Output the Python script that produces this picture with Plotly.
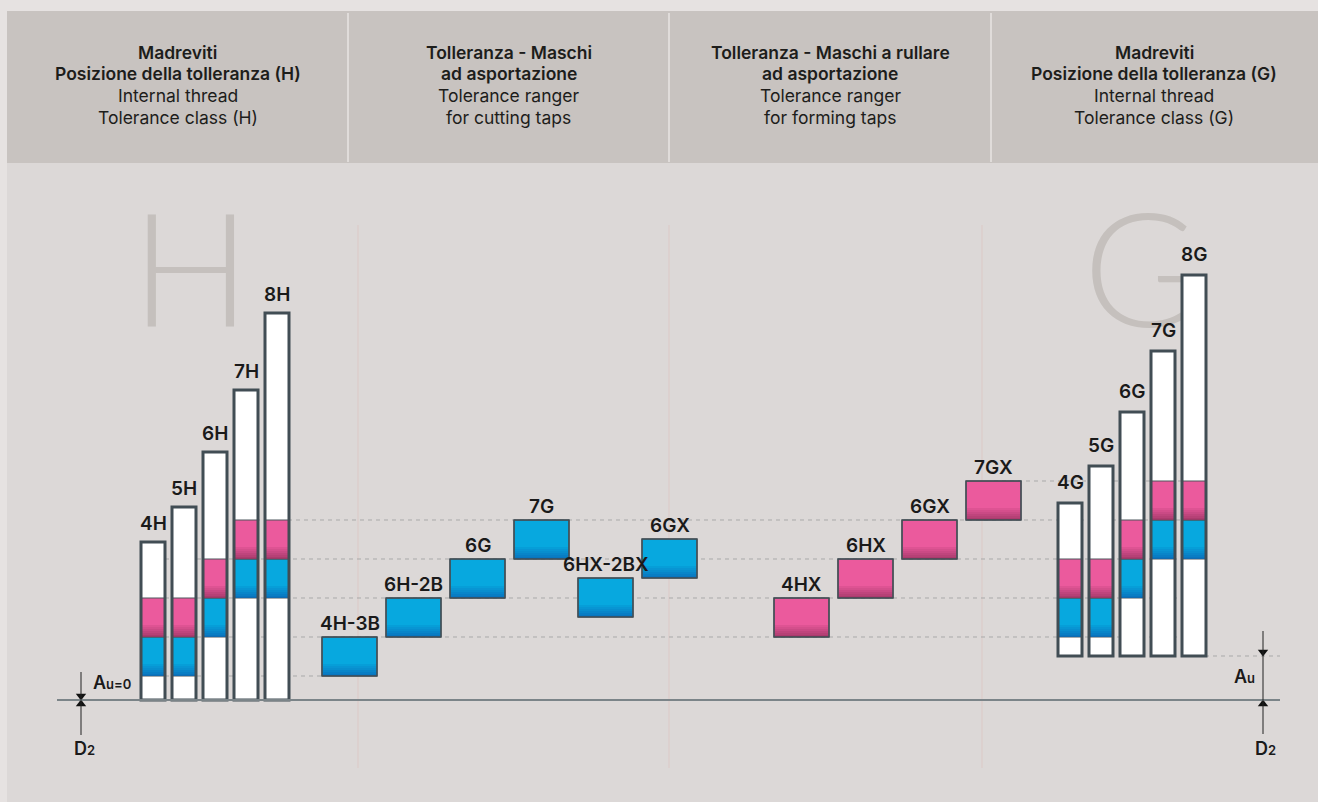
import plotly.graph_objects as go

# tolerance field boundaries above the basic pitch diameter D2 (= 0)
LEVELS = [24, 63, 102, 141, 180, 219]
AU = 44  # fundamental deviation of the G position

H_LABELS = ["4H", "5H", "6H", "7H", "8H"]
H_TOP = [158, 193, 248, 310, 387]
H_BLUE = [(24, 63), (24, 63), (63, 102), (102, 141), (102, 141)]
H_PINK = [(63, 102), (63, 102), (102, 141), (141, 180), (141, 180)]

CUT_LABELS = ["4H-3B", "6H-2B", "6G", "7G", "6HX-2BX", "6GX"]
CUT_LO = [24, 63, 102, 141, 83, 122]
CUT_HI = [63, 102, 141, 180, 122, 161]

FORM_LABELS = ["4HX", "6HX", "6GX", "7GX"]
FORM_LO = [63, 102, 141, 180]
FORM_HI = [102, 141, 180, 219]

G_LABELS = ["4G", "5G", "6G", "7G", "8G"]
G_TOP = [197, 234, 288, 349, 425]
G_BLUE = [(63, 102), (63, 102), (102, 141), (141, 180), (141, 180)]
G_PINK = [(102, 141), (102, 141), (141, 180), (180, 219), (180, 219)]

HEADERS = [
    ["Madreviti", "Posizione della tolleranza (H)", "Internal thread", "Tolerance class (H)"],
    ["Tolleranza - Maschi", "ad asportazione", "Tolerance ranger", "for cutting taps"],
    ["Tolleranza - Maschi a rullare", "ad asportazione", "Tolerance ranger", "for forming taps"],
    ["Madreviti", "Posizione della tolleranza (G)", "Internal thread", "Tolerance class (G)"],
]

W, H = 1318, 802
BASE_PX = 700          # pixel row of the D2 line
FONT = "Inter"
PINK, PINK_D = "#eb5a9d", "rgba(150,50,95,{a})"
BLUE, BLUE_D = "#07a8df", "rgba(10,100,180,{a})"
OUTLINE = "#414d54"
BAR_W, BOX_W = 24, 55


def py(p):
    """pixel row -> y value (axes are laid out 1:1 on the page)"""
    return BASE_PX - p


fig = go.Figure()


def seg(xs, lo, hi, color, width, line=None):
    fig.add_trace(go.Bar(
        x=xs, y=[b - a for a, b in zip(lo, hi)], base=lo, width=width,
        marker=dict(color=color, line=line or dict(width=0)),
        hoverinfo="skip"))


def colored(xs, lo, hi, color, dark, width):
    seg(xs, lo, hi, color, width, dict(color="#4c575d", width=1))
    # darker bottom edge, fading upwards
    for k in range(6):
        seg(xs, [a + k * 2 for a in lo], [a + k * 2 + 2 for a in lo],
            dark.format(a=round(0.75 - k * 0.12, 2)), width - 1)


def outline(xs, lo, hi, width, lw):
    seg(xs, lo, hi, "rgba(0,0,0,0)", width, dict(color=OUTLINE, width=lw))


# ---- tall bars: H (left) and G (right) ----
hx = [153 + 31 * i for i in range(len(H_LABELS))]
gx = [1070 + 31 * i for i in range(len(G_LABELS))]
for xs, bottom, top, blue, pink in [(hx, [0] * 5, H_TOP, H_BLUE, H_PINK),
                                    (gx, [AU] * 5, G_TOP, G_BLUE, G_PINK)]:
    seg(xs, bottom, top, "white", BAR_W)
    colored(xs, [b[0] for b in blue], [b[1] for b in blue], BLUE, BLUE_D, BAR_W)
    colored(xs, [p[0] for p in pink], [p[1] for p in pink], PINK, PINK_D, BAR_W)
    outline(xs, bottom, top, BAR_W, 3)

# ---- tap tolerance boxes ----
cx = [349.5 + 64 * i for i in range(len(CUT_LABELS))]
colored(cx, CUT_LO, CUT_HI, BLUE, BLUE_D, BOX_W)
outline(cx, CUT_LO, CUT_HI, BOX_W, 1.5)
fx = [801.5 + 64 * i for i in range(len(FORM_LABELS))]
colored(fx, FORM_LO, FORM_HI, PINK, PINK_D, BOX_W)
outline(fx, FORM_LO, FORM_HI, BOX_W, 1.5)

# arrow heads at D2 / Au
fig.add_trace(go.Scatter(
    x=[81, 81, 1263, 1263], y=[4, -4, AU + 4, -4], mode="markers",
    marker=dict(symbol=["triangle-down", "triangle-up"] * 2, size=9, color="#111"),
    hoverinfo="skip"))

shapes = [
    # panel and header band
    dict(type="rect", x0=7, x1=W, y0=py(H), y1=py(11), fillcolor="#dcd8d7", line_width=0, layer="below"),
    dict(type="rect", x0=7, x1=W, y0=py(163), y1=py(11), fillcolor="#c8c3c0", line_width=0, layer="below"),
]
for x in [348, 669, 991]:
    shapes.append(dict(type="line", x0=x, x1=x, y0=py(162), y1=py(13),
                       line=dict(color="#e8e4e3", width=1.5), layer="below"))
for x in [358, 669, 982]:
    shapes.append(dict(type="line", x0=x, x1=x, y0=py(768), y1=py(225),
                       line=dict(color="#dcc9c6", width=1), layer="below"))

# dashed reference lines
spans = [(165, 322), (165, 1185), (165, 1185), (165, 1185), (240, 1185), (994, 1185)]
for lv, (a, b) in zip(LEVELS, spans):
    shapes.append(dict(type="line", x0=a, x1=b, y0=lv, y1=lv,
                       line=dict(color="#a9a9a9", width=1, dash="4px,4px"), layer="below"))
shapes.append(dict(type="line", x0=1205, x1=1280, y0=AU, y1=AU,
                   line=dict(color="#a9a9a9", width=1, dash="4px,4px"), layer="below"))

# big background letters
for letter, xc in [("H", 191), ("G", 1141)]:
    shapes.append(dict(type="rect", x0=xc - 80, x1=xc + 80, y0=py(343), y1=py(185),
                       line_width=0, fillcolor="rgba(0,0,0,0)", layer="below",
                       label=dict(text=letter, textposition="middle center",
                                  font=dict(family="Lato", size=158, color="#c5c0bd", weight=300))))

# D2 baseline and arrows
shapes.append(dict(type="line", x0=57, x1=1280, y0=0, y1=0, line=dict(color="#7b8488", width=2)))
shapes.append(dict(type="line", x0=81, x1=81, y0=py(672), y1=py(735), line=dict(color="#222", width=1)))
shapes.append(dict(type="line", x0=1263, x1=1263, y0=py(631), y1=py(734), line=dict(color="#222", width=1)))

ann = []
for xc, lines in zip([177.5, 508.5, 830, 1154], HEADERS):
    for j, t in enumerate(lines):
        ann.append(dict(x=xc, y=py(52 + 21.7 * j), text=t, showarrow=False,
                        font=dict(family=FONT, size=17.5, color="#1d1d1b",
                                  weight=600 if j < 2 else 400)))


def labels(xs, tops, texts, shift):
    for x, t, s in zip(xs, tops, texts):
        ann.append(dict(x=x, y=t, text=s, showarrow=False, yanchor="bottom", yshift=shift,
                        font=dict(family=FONT, size=19, color="#1a1a1a", weight=600)))


labels(hx, H_TOP, H_LABELS, 5)
labels(gx, G_TOP, G_LABELS, 7)
labels(cx, CUT_HI, CUT_LABELS, 0)
labels(fx, FORM_HI, FORM_LABELS, 0)

sm = "<span style='font-size:13px'>{}</span>"
small = dict(family=FONT, size=18, color="#1a1a1a", weight=600)
ann += [
    dict(x=112, y=py(682), text="A" + sm.format("u=0"), showarrow=False, font=small),
    dict(x=84, y=py(748), text="D" + sm.format("2"), showarrow=False, font=small),
    dict(x=1244, y=py(676), text="A" + sm.format("u"), showarrow=False, font=small),
    dict(x=1265, y=py(748), text="D" + sm.format("2"), showarrow=False, font=small),
]

fig.update_layout(
    width=W, height=H, margin=dict(l=0, r=0, t=0, b=0),
    paper_bgcolor="#e6e2e1", plot_bgcolor="rgba(0,0,0,0)",
    barmode="overlay", showlegend=False,
    xaxis=dict(range=[0, W], visible=False, fixedrange=True),
    yaxis=dict(range=[py(H), py(0)], visible=False, fixedrange=True),
    shapes=shapes, annotations=ann,
)
fig.write_html("out.html", config={"displayModeBar": False},
               post_script="document.body.style.margin='0';")
